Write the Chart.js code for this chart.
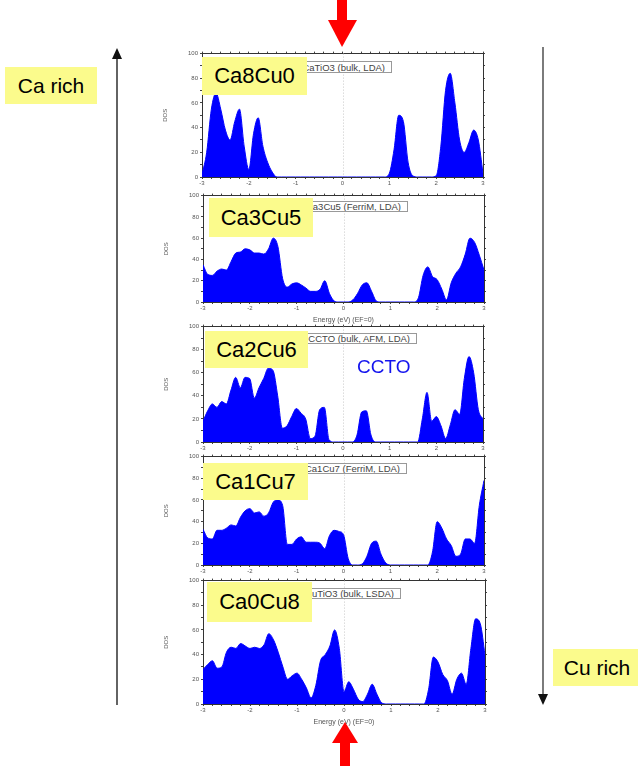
<!DOCTYPE html>
<html>
<head>
<meta charset="utf-8">
<script src="https://cdn.jsdelivr.net/npm/chart.js@4/dist/chart.umd.min.js"></script>
<style>
  body { margin: 0; background: #fff; font-family: "Liberation Sans", Arial, sans-serif; }
  #lienzo { position: relative; width: 638px; height: 766px; overflow: hidden; }
  .panel { position: absolute; }
  .etiqueta { position: absolute; background: #fbfb8c; color: #000; font-size: 22px;
              display: flex; align-items: center; justify-content: center; z-index: 3; }
  .leyenda { position: absolute; border: 1px solid #999; background: #fff; overflow: hidden;
             display: flex; justify-content: flex-end; align-items: center; z-index: 2;
             font-size: 9.5px; color: #444; white-space: nowrap; padding-right: 6px; box-sizing: border-box; }
  .nota { position: absolute; font-size: 19px; color: #1414ee; z-index: 2; }
  svg { position: absolute; left: 0; top: 0; z-index: 4; }
</style>
</head>
<body>
<div id="lienzo"></div>
<script>
// Energía (eV), referida al nivel de Fermi
const energia = [
  -3.0, -2.9, -2.8, -2.7, -2.6, -2.5, -2.4, -2.3, -2.2, -2.1,
  -2.0, -1.9, -1.8, -1.7, -1.6, -1.5, -1.4, -1.3, -1.2, -1.1,
  -1.0, -0.9, -0.8, -0.7, -0.6, -0.5, -0.4, -0.3, -0.2, -0.1,
   0.0,  0.1,  0.2,  0.3,  0.4,  0.5,  0.6,  0.7,  0.8,  0.9,
   1.0,  1.1,  1.2,  1.3,  1.4,  1.5,  1.6,  1.7,  1.8,  1.9,
   2.0,  2.1,  2.2,  2.3,  2.4,  2.5,  2.6,  2.7,  2.8,  2.9,  3.0
];

const composiciones = ['Ca8Cu0', 'Ca3Cu5', 'Ca2Cu6', 'Ca1Cu7', 'Ca0Cu8'];
const calculos = ['CaTiO3 (bulk, LDA)', 'Ca3Cu5 (FerriM, LDA)', 'CCTO (bulk, AFM, LDA)',
                  'Ca1Cu7 (FerriM, LDA)', 'CuTiO3 (bulk, LSDA)'];
const ticksDos = [0, 20, 40, 60, 80, 100];
const ticksEnergia = [-3, -2, -1, 0, 1, 2, 3];

const dosCa8Cu0 = [
   2, 20, 55, 68, 55, 38, 30, 45, 55, 25,
   6, 35, 48, 25, 12,  4,  0,  0,  0,  0,
   0,  0,  0,  0,  0,  0,  0,  0,  0,  0,
   0,  0,  0,  0,  0,  0,  0,  0,  0,  0,
   3, 22, 50, 45, 12,  1,  0,  0,  0,  0,
   1, 25, 70, 84, 60, 30, 20, 28, 38, 30,  3
];
const dosCa3Cu5 = [
  35, 26, 25, 29, 31, 30, 38, 46, 47, 50,
  49, 46, 46, 45, 50, 60, 52, 22, 14, 17,
  18, 16, 13, 10, 10, 12, 20,  8,  1,  0,
   0,  0,  2,  8, 16, 18, 10,  1,  0,  0,
   0,  0,  0,  0,  0,  0,  4, 25, 33, 24,
  21, 12,  2, 18, 27, 33, 45, 60, 56, 44, 30
];
const dosCa2Cu6 = [
  18, 27, 33, 30, 35, 33, 45, 56, 47, 56,
  55, 38, 47, 55, 64, 62, 40, 12, 14, 22,
  29, 25, 20,  3,  5, 28, 30,  2,  0,  0,
   0,  0,  0,  6, 26, 27,  6,  0,  0,  0,
   0,  0,  0,  0,  0,  0,  0, 20, 43, 18,
  22, 14,  3, 15, 28, 24, 55, 74, 60, 28, 20
];
const dosCa1Cu7 = [
  33, 25, 24, 32, 32, 34, 37, 36, 44, 50,
  52, 48, 49, 45, 48, 58, 60, 55, 19, 19,
  24, 26, 21, 21, 21, 20, 15, 27, 32, 31,
  28,  6,  0,  0,  1,  8, 20, 22, 10,  2,
   0,  0,  0,  0,  0,  0,  0,  0,  0, 12,
  40, 34, 24, 18,  8, 10, 24, 24, 20, 55, 78
];
const dosCa0Cu8 = [
  28, 32, 35, 29, 30, 42, 46, 45, 49, 47,
  45, 46, 45, 48, 57, 52, 42, 30, 20, 23,
  25, 20, 13,  5, 15, 35, 40, 47, 60, 45,
  10, 18, 12,  4,  2,  8, 16,  8,  1,  0,
   0,  0,  0,  0,  0,  0,  0,  0, 12, 38,
  34, 24, 19,  8, 20, 25, 16, 45, 69, 65, 40
];
const series = [dosCa8Cu0, dosCa3Cu5, dosCa2Cu6, dosCa1Cu7, dosCa0Cu8];

// caja de cada panel: área de datos [izq, arriba, der, abajo], con o sin título en x
const paneles = [
  { area: [202, 53, 483, 177], titulo: false, etq: [202, 57, 105, 38], ley: [300, 61, 92, 12] },
  { area: [203, 195, 484, 302], titulo: true, etq: [209, 198, 104, 39], ley: [300, 201, 108, 11] },
  { area: [203, 326, 483, 442], titulo: false, etq: [205, 331, 103, 37], ley: [300, 333, 117, 11] },
  { area: [203, 456, 484, 565], titulo: false, etq: [203, 463, 105, 37], ley: [300, 463, 107, 11] },
  { area: [203, 580, 485, 704], titulo: true, etq: [207, 582, 105, 40], ley: [300, 588, 101, 11] }
];

const ANCHO_Y = 40, ANCHO_Y2 = 5, ALTO_X2 = 5;
const lienzo = document.getElementById('lienzo');

// línea punteada en E = EF
const lineaFermi = {
  id: 'lineaFermi',
  beforeDatasetsDraw(chart) {
    const { ctx, chartArea } = chart;
    const x = chart.scales.x.getPixelForValue(0);
    ctx.save();
    ctx.strokeStyle = '#c8c8c8';
    ctx.lineWidth = 1;
    ctx.setLineDash([1, 2]);
    ctx.beginPath();
    ctx.moveTo(Math.round(x) + 0.5, chartArea.top);
    ctx.lineTo(Math.round(x) + 0.5, chartArea.bottom);
    ctx.stroke();
    ctx.restore();
  }
};

function esEntero(v) { return Math.abs(v - Math.round(v)) < 1e-6; }

function ejeX(posicion, conEtiquetas, titulo, alto) {
  return {
    type: 'linear', position: posicion, min: -3, max: 3,
    afterBuildTicks: (s) => {
      const t = [];
      for (let i = 0; i <= 30; i++) t.push({ value: -3 + i * 0.2 });
      s.ticks = t;
    },
    afterFit: (s) => { s.height = alto; },
    grid: { drawOnChartArea: false, drawTicks: true, tickLength: 2, color: '#444', lineWidth: 1 },
    border: { display: true, color: '#333', width: 1 },
    ticks: {
      display: conEtiquetas, autoSkip: false, maxRotation: 0, padding: 1,
      font: { size: 6, family: 'Liberation Sans' }, color: '#555',
      callback: (v) => {
        const r = Math.round(v);
        return esEntero(v) && ticksEnergia.includes(r) ? String(r) : '';
      }
    },
    title: { display: !!titulo, text: 'Energy (eV) (EF=0)', padding: { top: 0, bottom: 0 },
             font: { size: 7, family: 'Liberation Sans' }, color: '#555' }
  };
}

function ejeY(posicion, conEtiquetas, ancho) {
  return {
    type: 'linear', position: posicion, min: 0, max: 100,
    afterBuildTicks: (s) => {
      const t = [];
      for (let v = 0; v <= 100; v += 10) t.push({ value: v });
      s.ticks = t;
    },
    afterFit: (s) => { s.width = ancho; },
    grid: { drawOnChartArea: false, drawTicks: true, tickLength: 2, color: '#444', lineWidth: 1 },
    border: { display: true, color: '#333', width: 1 },
    ticks: {
      display: conEtiquetas, padding: 2,
      font: { size: 6, family: 'Liberation Sans' }, color: '#555',
      callback: (v) => ticksDos.includes(v) ? String(v) : ''
    },
    title: { display: conEtiquetas, text: 'DOS', padding: { top: 0, bottom: 10 },
             font: { size: 6, family: 'Liberation Sans' }, color: '#555' }
  };
}

paneles.forEach((p, i) => {
  const [izq, arriba, der, abajo] = p.area;
  const altoX = p.titulo ? 22 : 12;
  const ancho = ANCHO_Y + (der - izq) + ANCHO_Y2;
  const alto = ALTO_X2 + (abajo - arriba) + altoX;

  const caja = document.createElement('div');
  caja.className = 'panel';
  caja.style.left = (izq - ANCHO_Y) + 'px';
  caja.style.top = (arriba - ALTO_X2) + 'px';
  const canvas = document.createElement('canvas');
  canvas.width = ancho;
  canvas.height = alto;
  caja.appendChild(canvas);
  lienzo.appendChild(caja);

  new Chart(canvas.getContext('2d'), {
    type: 'line',
    data: {
      datasets: [{
        label: composiciones[i],
        data: energia.map((e, k) => ({ x: e, y: series[i][k] })),
        borderColor: '#0000ff',
        backgroundColor: '#0000ff',
        borderWidth: 1,
        fill: 'origin',
        pointRadius: 0,
        cubicInterpolationMode: 'monotone'
      }]
    },
    options: {
      responsive: false,
      animation: false,
      layout: { padding: 0 },
      plugins: { legend: { display: false }, tooltip: { enabled: false } },
      scales: {
        x: ejeX('bottom', true, p.titulo, altoX),
        x2: ejeX('top', false, false, ALTO_X2),
        y: ejeY('left', true, ANCHO_Y),
        y2: ejeY('right', false, ANCHO_Y2)
      }
    },
    plugins: [lineaFermi]
  });

  // recuadro de leyenda del cálculo
  const ley = document.createElement('div');
  ley.className = 'leyenda';
  ley.style.left = p.ley[0] + 'px';
  ley.style.top = p.ley[1] + 'px';
  ley.style.width = p.ley[2] + 'px';
  ley.style.height = p.ley[3] + 'px';
  const txt = document.createElement('span');
  txt.textContent = calculos[i];
  ley.appendChild(txt);
  lienzo.appendChild(ley);

  const etq = document.createElement('div');
  etq.className = 'etiqueta';
  etq.style.left = p.etq[0] + 'px';
  etq.style.top = p.etq[1] + 'px';
  etq.style.width = p.etq[2] + 'px';
  etq.style.height = p.etq[3] + 'px';
  etq.textContent = composiciones[i];
  lienzo.appendChild(etq);
});

// etiquetas laterales
function agregarEtiqueta(texto, x, y, w, h) {
  const d = document.createElement('div');
  d.className = 'etiqueta';
  d.style.left = x + 'px';
  d.style.top = y + 'px';
  d.style.width = w + 'px';
  d.style.height = h + 'px';
  d.style.fontSize = '21px';
  d.textContent = texto;
  lienzo.appendChild(d);
}
agregarEtiqueta('Ca rich', 5, 67, 92, 37);
agregarEtiqueta('Cu rich', 553, 649, 88, 37);

const nota = document.createElement('div');
nota.className = 'nota';
nota.style.left = '357px';
nota.style.top = '356px';
nota.textContent = 'CCTO';
lienzo.appendChild(nota);

// flechas
lienzo.insertAdjacentHTML('beforeend', `
<svg width="638" height="766" viewBox="0 0 638 766">
  <line x1="117" y1="56" x2="117" y2="705" stroke="#222" stroke-width="1.4"/>
  <polygon points="117,48 112,59 122,59" fill="#111"/>
  <line x1="543" y1="47" x2="543" y2="696" stroke="#444" stroke-width="1.4"/>
  <polygon points="543,705 538,694 548,694" fill="#111"/>
  <rect x="337" y="0" width="10" height="21" fill="#ff0000"/>
  <polygon points="328,20 357,20 342,47" fill="#ff0000"/>
  <polygon points="345,722 332,743 358,743" fill="#ff0000"/>
  <rect x="340" y="742" width="10" height="24" fill="#ff0000"/>
</svg>`);
</script>
</body>
</html>
